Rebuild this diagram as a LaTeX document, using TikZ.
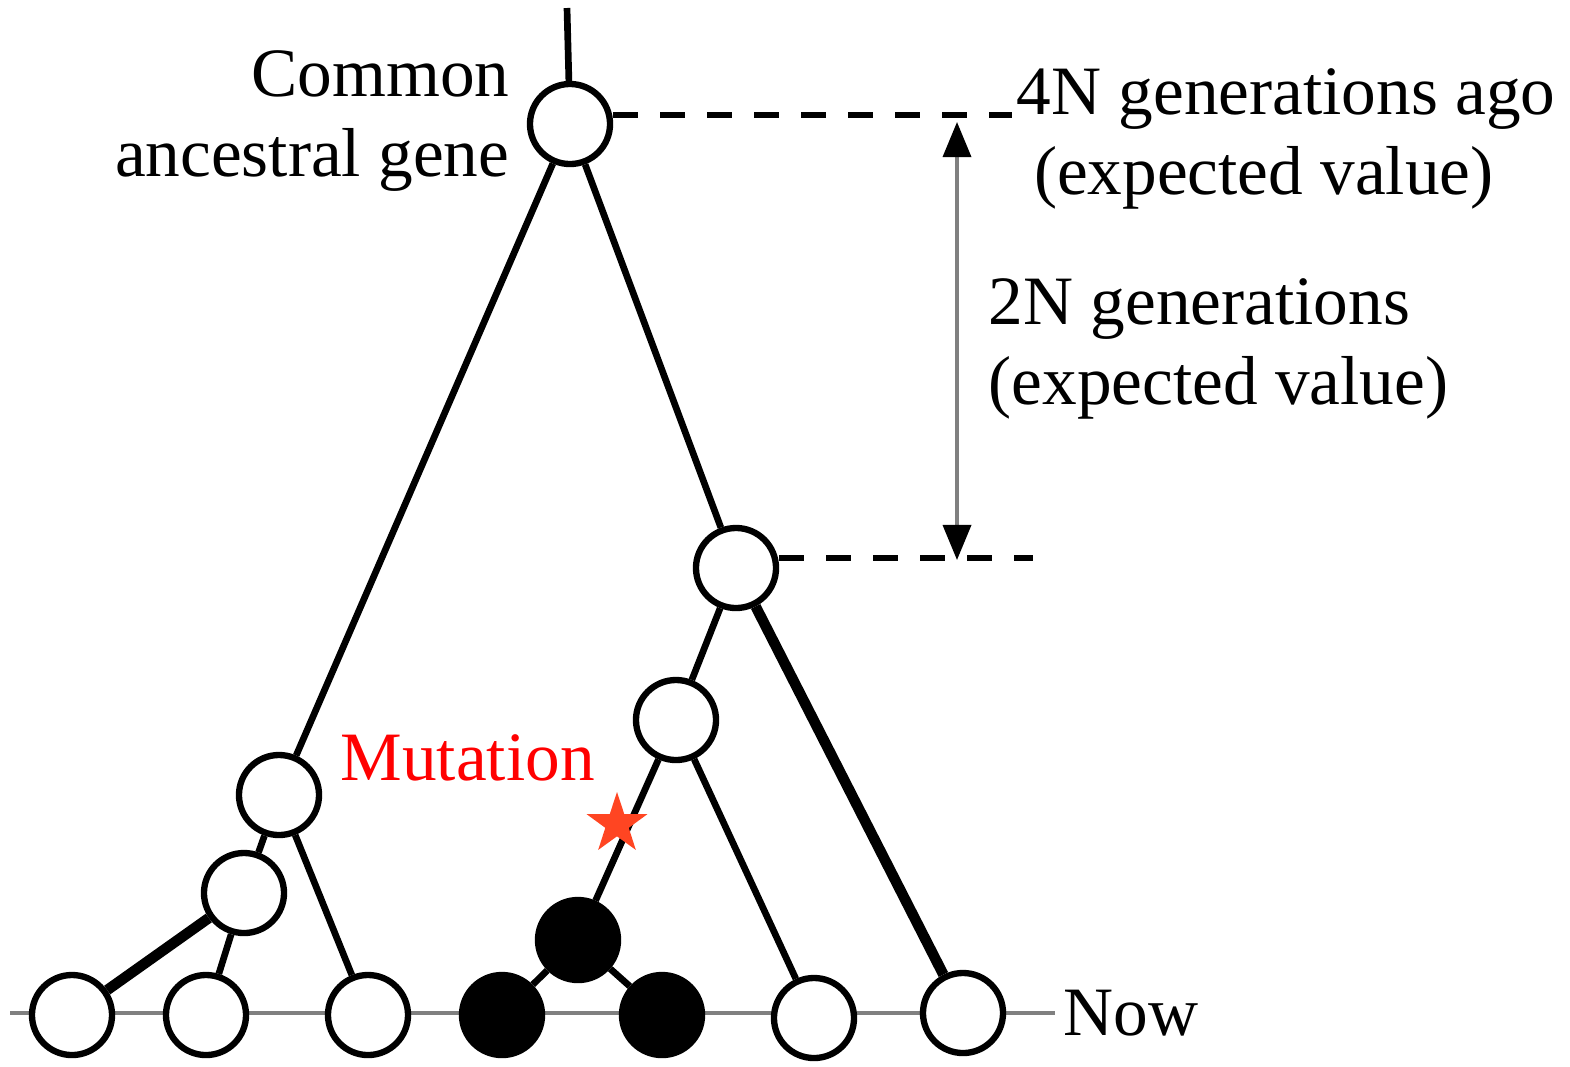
\documentclass[tikz,border=0pt]{standalone}
\usepackage{fontspec}
\setmainfont{Liberation Serif}
\usetikzlibrary{arrows.meta,shapes.geometric}

\definecolor{starred}{RGB}{255,69,34}

\begin{document}
\begin{tikzpicture}[
    x=0.01cm, y=-0.01cm,
    font=\fontsize{19.7}{22.8}\selectfont,
    gene/.style={draw, circle, line width=1.8pt, fill=white, minimum size=0.8cm, inner sep=0pt},
    mutgene/.style={gene, fill=black},
    branch/.style={line width=1.9pt},
    heavy/.style={line width=3pt},
    level/.style={line width=1.8pt, dash pattern=on 0.25cm off 0.22cm},
    span/.style={{Triangle[length=0.35cm,width=0.28cm,color=black]}-{Triangle[length=0.35cm,width=0.28cm,color=black]}, gray, line width=1pt},
    label/.style={inner sep=0pt}
]
\useasboundingbox (0,0) rectangle (1570,1066);

% Linha do presente
\coordinate (nowL) at (10,1013);
\coordinate (nowR) at (1055,1013);
\draw[gray, line width=1.1pt] (nowL) -- (nowR);

% Ancestral e nos internos
\coordinate (stem) at (567,8);
\node[gene] (anc) at (570,124) {};
\node[gene] (mid) at (736,568) {};
\node[gene] (sub) at (676,720) {};
\node[gene] (left) at (279,795) {};
\node[gene] (lowleft) at (244,893) {};
\node[mutgene] (mutnode) at (578,940) {};

% Genes atuais
\node[gene] (g1) at (72,1015) {};
\node[gene] (g2) at (206,1015) {};
\node[gene] (g3) at (368,1015) {};
\node[mutgene] (g4) at (502,1015) {};
\node[mutgene] (g5) at (662,1015) {};
\node[gene] (g6) at (814,1018) {};
\node[gene] (g7) at (963,1013) {};

% Ramos
\draw[branch] (stem) -- (anc);
\draw[branch] (anc) -- (left);
\draw[branch] (anc) -- (mid);
\draw[branch] (mid) -- (sub);
\draw[heavy] (mid) -- (g7);
\draw[branch] (sub) -- (mutnode);
\draw[branch] (sub) -- (g6);
\draw[branch] (left) -- (lowleft);
\draw[branch] (left) -- (g3);
\draw[heavy] (lowleft) -- (g1);
\draw[branch] (lowleft) -- (g2);
\draw[branch] (mutnode) -- (g4);
\draw[branch] (mutnode) -- (g5);

% Mutacao
\node[star, star points=5, star point ratio=2.6, fill=starred, inner sep=0pt, minimum size=0.64cm] (star) at (617,824) {};
\node[label, anchor=base west, text=red] (mutlabel) at (340,780) {Mutation};

% Escala de tempo
\coordinate (lvl4N) at (1012,115);
\coordinate (lvl2N) at (1033,558);
\coordinate (tip4N) at (957,122);
\coordinate (tip2N) at (957,560);
\draw[level] (anc.east |- lvl4N) -- (lvl4N);
\draw[level] (mid.east |- lvl2N) -- (lvl2N);
\draw[span] (tip4N) -- (tip2N);

% Textos
\node[label, anchor=north east, align=right] (anclabel) at (510,50) {Common\\ancestral gene};
\node[label, anchor=north west, align=left] (label4N) at (1016,68) {4N generations ago\\\hspace*{0.25em}(expected value)};
\node[label, anchor=north west, align=left] (label2N) at (988,278) {2N generations\\(expected value)};
\node[label, anchor=west] (nowlabel) at (1063,1013) {Now};

\end{tikzpicture}
\end{document}
